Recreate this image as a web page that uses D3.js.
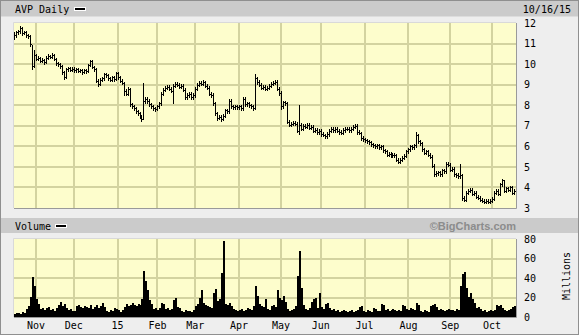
<!DOCTYPE html>
<html>
<head>
<meta charset="utf-8">
<script src="https://cdn.jsdelivr.net/npm/d3@7"></script>
<style>
  body { margin: 0; background: #fff; }
  svg { display: block; }
  text { font-family: 'DejaVu Sans Mono', monospace; font-size: 10px; fill: #000; }
</style>
</head>
<body>
<svg width="579" height="335"></svg>
<script>
const titleText = 'AVP Daily';
const dateText = '10/16/15';

// trading calendar, Oct 17 2014 - Oct 16 2015
const firstDay = '2014-10-17';
const lastDay = '2015-10-16';
const holidays = ['2014-11-27', '2014-12-25', '2015-01-01', '2015-01-19', '2015-02-16',
  '2015-04-03', '2015-05-25', '2015-07-03', '2015-09-07'];

const monthLabels = ['Nov', 'Dec', '15', 'Feb', 'Mar', 'Apr', 'May', 'Jun', 'Jul', 'Aug', 'Sep', 'Oct'];
const priceTicks = [3, 4, 5, 6, 7, 8, 9, 10, 11, 12];
const volumeTicks = [0, 20, 40, 60, 80];

// daily closes, one per trading day
const closes = [
  11.40, 11.55, 11.60, 11.75, 11.50, 11.55, 11.40, 11.35, 11.00, 9.90,
  10.45, 10.25, 10.30, 10.15, 10.20, 10.10, 10.30, 10.40, 10.35, 10.45,
  10.25, 10.05, 10.00, 9.90, 9.60, 9.35, 9.75, 9.80, 9.72, 9.78,
  9.70, 9.75, 9.68, 9.72, 9.60, 9.70, 9.65, 9.95, 10.15, 9.85,
  9.75, 9.20, 9.05, 9.25, 9.30, 9.50, 9.45, 9.30, 9.25, 9.35,
  9.28, 9.55, 9.35, 9.20, 9.10, 8.70, 8.55, 8.80, 8.05, 7.95,
  7.85, 7.70, 7.60, 7.45, 7.35, 8.20, 8.30, 8.20, 8.05, 7.95,
  7.85, 7.80, 7.95, 8.10, 8.55, 8.75, 8.85, 8.90, 8.80, 8.70,
  8.95, 9.05, 9.00, 8.90, 8.95, 8.75, 8.40, 8.50, 8.55, 8.40,
  8.50, 8.80, 9.00, 9.10, 9.05, 9.15, 8.95, 8.85, 8.55, 8.50,
  8.10, 7.60, 7.40, 7.45, 7.35, 7.50, 7.75, 7.70, 8.20, 7.95,
  7.90, 7.95, 7.90, 7.95, 7.85, 8.30, 8.05, 8.10, 8.00, 7.95,
  7.85, 9.30, 9.15, 9.00, 8.85, 8.90, 8.80, 8.85, 8.95, 9.05,
  9.10, 9.15, 8.80, 8.60, 7.95, 8.15, 8.10, 7.20, 7.05, 7.10,
  7.15, 7.10, 6.75, 7.05, 6.85, 7.00, 6.95, 7.05, 6.90, 6.95,
  6.75, 6.80, 6.70, 6.75, 6.60, 6.55, 6.50, 6.60, 6.75, 6.85,
  6.80, 6.85, 6.75, 6.70, 6.65, 6.80, 6.85, 6.85, 6.80, 6.85,
  6.95, 7.00, 6.70, 6.65, 6.40, 6.35, 6.30, 6.25, 6.20, 6.10,
  6.05, 6.00, 6.05, 5.95, 6.00, 5.80, 5.75, 5.60, 5.65, 5.55,
  5.60, 5.58, 5.35, 5.25, 5.35, 5.45, 5.55, 5.75, 5.85, 6.00,
  5.95, 6.05, 6.55, 6.25, 6.15, 5.85, 5.70, 5.75, 5.60, 5.50,
  5.05, 4.65, 4.70, 4.75, 4.65, 4.85, 4.80, 5.15, 5.10, 4.85,
  4.90, 4.65, 4.60, 4.55, 4.60, 3.50, 3.40, 3.75, 3.85, 3.90,
  3.70, 3.75, 3.55, 3.50, 3.40, 3.35, 3.30, 3.35, 3.30, 3.35,
  3.45, 3.75, 3.85, 3.70, 4.15, 4.35, 3.85, 3.95, 3.90, 4.00,
  3.75, 3.85
];

const highs = [
  11.55, 11.63, 11.68, 11.85, 11.80, 11.62, 11.62, 11.45, 11.40, 10.95,
  10.70, 10.50, 10.38, 10.36, 10.28, 10.26, 10.38, 10.48, 10.45, 10.52,
  10.50, 10.30, 10.12, 10.05, 9.95, 9.65, 9.82, 9.88, 9.85, 9.85,
  9.85, 9.82, 9.80, 9.78, 9.78, 9.76, 9.76, 10.02, 10.22, 10.20,
  9.90, 9.80, 9.28, 9.32, 9.38, 9.58, 9.56, 9.50, 9.36, 9.42,
  9.40, 9.62, 9.60, 9.42, 9.28, 9.15, 8.78, 8.90, 8.85, 8.12,
  8.02, 7.90, 7.78, 7.66, 7.52, 9.10, 8.40, 8.38, 8.28, 8.12,
  8.02, 7.92, 8.02, 8.18, 8.62, 8.82, 8.92, 8.98, 8.96, 8.88,
  9.02, 9.12, 9.12, 9.08, 9.02, 9.02, 8.82, 8.58, 8.62, 8.62,
  8.58, 8.88, 9.08, 9.20, 9.18, 9.22, 9.20, 9.02, 8.92, 8.62,
  8.58, 8.18, 7.68, 7.52, 7.52, 7.58, 7.82, 7.82, 8.28, 8.28,
  8.02, 8.02, 8.02, 8.02, 8.02, 8.38, 8.38, 8.18, 8.18, 8.08,
  8.02, 9.50, 9.38, 9.22, 9.08, 8.98, 8.98, 8.92, 9.02, 9.12,
  9.18, 9.22, 9.22, 8.88, 8.68, 8.22, 8.22, 8.18, 7.28, 7.18,
  7.22, 7.22, 7.18, 8.00, 7.12, 7.08, 7.08, 7.12, 7.12, 7.02,
  7.02, 6.88, 6.88, 6.82, 6.82, 6.68, 6.62, 6.68, 6.82, 6.92,
  6.92, 6.92, 6.92, 6.82, 6.78, 6.88, 6.92, 6.92, 6.92, 6.92,
  7.02, 7.08, 7.08, 6.78, 6.72, 6.48, 6.42, 6.38, 6.32, 6.28,
  6.18, 6.12, 6.12, 6.12, 6.08, 6.08, 5.88, 5.82, 5.72, 5.72,
  5.68, 5.68, 5.65, 5.42, 5.42, 5.52, 5.62, 5.82, 5.92, 6.08,
  6.08, 6.12, 6.72, 6.62, 6.32, 6.22, 5.92, 5.82, 5.82, 5.68,
  5.58, 5.12, 4.78, 4.82, 4.82, 4.92, 4.92, 5.22, 5.22, 5.18,
  4.98, 4.98, 4.72, 4.68, 5.15, 4.65, 3.58, 3.82, 3.92, 3.98,
  3.98, 3.82, 3.82, 3.62, 3.58, 3.48, 3.42, 3.42, 3.42, 3.42,
  3.52, 3.82, 3.92, 3.92, 4.22, 4.42, 4.38, 4.02, 4.02, 4.08,
  4.08, 3.92
];

const lows = [
  11.20, 11.32, 11.47, 11.52, 11.42, 11.45, 11.32, 11.27, 10.90, 9.76,
  9.85, 10.18, 10.18, 10.08, 10.08, 10.02, 10.05, 10.25, 10.28, 10.30,
  10.18, 9.98, 9.93, 9.82, 9.52, 9.28, 9.30, 9.68, 9.65, 9.66,
  9.62, 9.64, 9.60, 9.62, 9.54, 9.55, 9.58, 9.60, 9.90, 9.80,
  9.68, 9.12, 8.95, 9.00, 9.18, 9.25, 9.38, 9.22, 9.18, 9.20,
  9.20, 9.24, 9.28, 9.14, 9.02, 8.50, 8.48, 8.50, 7.98, 7.88,
  7.78, 7.62, 7.52, 7.38, 7.25, 7.32, 8.10, 8.12, 7.98, 7.88,
  7.78, 7.72, 7.75, 7.88, 8.02, 8.48, 8.68, 8.78, 8.72, 8.62,
  8.10, 8.88, 8.92, 8.82, 8.85, 8.68, 8.32, 8.32, 8.42, 8.32,
  8.32, 8.42, 8.72, 8.92, 8.98, 8.98, 8.88, 8.78, 8.48, 8.42,
  8.02, 7.52, 7.30, 7.32, 7.25, 7.28, 7.42, 7.62, 7.62, 7.88,
  7.82, 7.82, 7.82, 7.82, 7.78, 7.78, 7.98, 7.98, 7.92, 7.88,
  7.78, 7.80, 9.05, 8.92, 8.78, 8.78, 8.72, 8.72, 8.78, 8.88,
  8.98, 9.02, 8.72, 8.52, 7.80, 7.88, 8.02, 7.12, 6.98, 6.98,
  7.02, 7.02, 6.68, 6.62, 6.78, 6.78, 6.88, 6.88, 6.82, 6.82,
  6.68, 6.68, 6.62, 6.62, 6.52, 6.48, 6.42, 6.42, 6.52, 6.68,
  6.72, 6.72, 6.68, 6.62, 6.58, 6.58, 6.72, 6.78, 6.72, 6.72,
  6.78, 6.88, 6.62, 6.58, 6.32, 6.28, 6.22, 6.18, 6.12, 6.02,
  5.98, 5.92, 5.92, 5.88, 5.88, 5.72, 5.68, 5.52, 5.52, 5.48,
  5.48, 5.50, 5.28, 5.18, 5.18, 5.28, 5.38, 5.48, 5.68, 5.78,
  5.88, 5.88, 5.98, 6.18, 6.08, 5.78, 5.62, 5.62, 5.52, 5.42,
  4.98, 4.58, 4.58, 4.62, 4.58, 4.58, 4.72, 4.72, 5.02, 4.78,
  4.78, 4.58, 4.52, 4.48, 4.48, 3.38, 3.32, 3.35, 3.68, 3.78,
  3.62, 3.62, 3.48, 3.42, 3.32, 3.28, 3.22, 3.22, 3.22, 3.22,
  3.28, 3.38, 3.68, 3.62, 3.62, 4.08, 3.78, 3.78, 3.82, 3.82,
  3.68, 3.68
];

// daily volume, millions of shares
const volumes = [
  3, 4, 4, 3, 5, 4, 8, 11, 21, 41,
  32, 18, 13, 8, 9, 7, 9, 10, 7, 8,
  6, 9, 12, 15, 11, 13, 9, 7, 8, 6,
  6, 11, 12, 10, 9, 11, 10, 9, 12, 8,
  10, 12, 9, 11, 14, 10, 6, 5, 7, 6,
  9, 8, 7, 5, 7, 10, 13, 11, 12, 14,
  12, 11, 13, 12, 18, 47, 37, 28, 17, 13,
  8, 9, 7, 9, 14, 13, 8, 9, 7, 8,
  17, 20, 10, 9, 6, 5, 7, 6, 6, 5,
  7, 11, 13, 20, 28, 14, 12, 11, 10, 9,
  25, 29, 16, 18, 45, 78, 13, 12, 14, 11,
  8, 7, 6, 7, 8, 6, 7, 9, 8, 7,
  11, 32, 22, 13, 11, 10, 18, 8, 7, 11,
  12, 10, 28, 20, 17, 22, 15, 8, 6, 7,
  8, 11, 42, 68, 30, 12, 8, 7, 9, 15,
  18, 20, 9, 25, 10, 8, 13, 14, 9, 7,
  8, 6, 7, 5, 6, 7, 6, 5, 6, 7,
  5, 6, 7, 10, 11, 6, 5, 7, 6, 5,
  9, 8, 6, 6, 13, 12, 7, 8, 6, 7,
  8, 7, 6, 7, 6, 12, 11, 8, 7, 9,
  8, 7, 14, 12, 6, 5, 7, 6, 5, 11,
  12, 13, 10, 7, 8, 7, 6, 7, 8, 7,
  7, 6, 8, 7, 32, 44, 46, 30, 21, 25,
  18, 14, 9, 10, 8, 6, 7, 5, 6, 7,
  6, 7, 12, 11, 12, 9, 7, 6, 7, 8,
  10, 11
];

const fmt = d3.timeFormat('%Y-%m-%d');
const parse = d3.timeParse('%Y-%m-%d');
const days = d3.timeDay.range(parse(firstDay), d3.timeDay.offset(parse(lastDay), 1))
  .filter(d => d.getDay() !== 0 && d.getDay() !== 6 && !holidays.includes(fmt(d)))
  .map(fmt);

const data = days.map((d, i) => ({
  date: d, close: closes[i], high: highs[i], low: lows[i], volume: volumes[i]
}));

// first trading day of each month gets a grid line and label
const monthStarts = days.filter((d, i) => i > 0 && d.slice(5, 7) !== days[i - 1].slice(5, 7));

const svg = d3.select('svg');
const width = +svg.attr('width');
const height = +svg.attr('height');

const plotLeft = 14, plotRight = 516;
const price = { top: 23, bottom: 208 };
const vol = { top: 239, bottom: 317 };

const gridColor = '#d3d3a0';
const plotFill = '#fdfdcc';

// backdrop and header bands
svg.append('rect')
  .attr('x', 0.5).attr('y', 0.5)
  .attr('width', width - 1).attr('height', height - 1)
  .attr('fill', '#eeeeee').attr('stroke', '#8f8f8f');

svg.append('rect')
  .attr('x', 1).attr('y', 1).attr('width', width - 2).attr('height', 15.5)
  .attr('fill', '#cbcbcb');
svg.append('rect')
  .attr('x', 1).attr('y', 218).attr('width', width - 2).attr('height', 15)
  .attr('fill', '#cbcbcb');

svg.append('text').attr('x', 15).attr('y', 12.5).text(titleText);
svg.append('rect')
  .attr('x', 74.5).attr('y', 7.5).attr('width', 11).attr('height', 3)
  .attr('fill', '#000').attr('stroke', '#fff');
svg.append('text').attr('x', 571).attr('y', 12.5)
  .attr('text-anchor', 'end').text(dateText);

svg.append('text').attr('x', 15).attr('y', 229.5).text('Volume');
svg.append('rect')
  .attr('x', 55.5).attr('y', 224.5).attr('width', 11).attr('height', 3)
  .attr('fill', '#000').attr('stroke', '#fff');
svg.append('text').attr('x', 516).attr('y', 230)
  .attr('text-anchor', 'end')
  .style('font-family', '"Liberation Sans", Arial, sans-serif')
  .style('font-size', '11px').style('font-weight', 'bold')
  .style('fill', '#8c8c8c')
  .text('\u00a9BigCharts.com');

const xScale = d3.scaleBand()
  .domain(days)
  .range([plotLeft, plotRight]);

const yPrice = d3.scaleLinear().domain([3, 12]).range([price.bottom, price.top]);
const yVol = d3.scaleLinear().domain([0, 80]).range([vol.bottom, vol.top]);

function panel(box, yScale, ticks) {
  const g = svg.append('g');
  g.append('rect')
    .attr('x', plotLeft).attr('y', box.top)
    .attr('width', plotRight - plotLeft).attr('height', box.bottom - box.top)
    .attr('fill', plotFill);

  g.selectAll('.hgrid').data(ticks.slice(1, -1)).join('line')
    .attr('x1', plotLeft).attr('x2', plotRight)
    .attr('y1', d => Math.round(yScale(d))).attr('y2', d => Math.round(yScale(d)))
    .attr('stroke', gridColor).attr('stroke-width', 2)
    .attr('shape-rendering', 'crispEdges');

  g.selectAll('.vgrid').data(monthStarts).join('line')
    .attr('x1', d => Math.round(xScale(d))).attr('x2', d => Math.round(xScale(d)))
    .attr('y1', box.top).attr('y2', box.bottom)
    .attr('stroke', gridColor).attr('stroke-width', 2)
    .attr('shape-rendering', 'crispEdges');

  const yAxis = d3.axisRight(yScale).tickValues(ticks).tickSize(0).tickPadding(8);
  const yAxisG = g.append('g')
    .attr('transform', `translate(${plotRight},0)`)
    .call(yAxis);
  yAxisG.select('.domain').remove();
  yAxisG.selectAll('text')
    .style('font-family', '"DejaVu Sans Mono", monospace')
    .style('font-size', '10px');
  return g;
}

function frame(box) {
  svg.append('path')
    .attr('d', `M${plotLeft - 0.5},${box.bottom} V${box.top - 0.5} H${plotRight}`)
    .attr('fill', 'none').attr('stroke', '#d9d9d9');
  svg.append('path')
    .attr('d', `M${plotLeft},${box.bottom + 0.5} H${plotRight + 0.5} V${box.top}`)
    .attr('fill', 'none').attr('stroke', '#9a9a9a');
}

const priceG = panel(price, yPrice, priceTicks);
const volG = panel(vol, yVol, volumeTicks);

// price bars: high-low line with a close tick
const bars = priceG.append('g').attr('shape-rendering', 'crispEdges');
bars.selectAll('.hl').data(data).join('line')
  .attr('x1', d => Math.round(xScale(d.date)) + 0.5)
  .attr('x2', d => Math.round(xScale(d.date)) + 0.5)
  .attr('y1', d => Math.round(yPrice(d.high)))
  .attr('y2', d => Math.round(yPrice(d.low)) + 1)
  .attr('stroke', '#000');
bars.selectAll('.cl').data(data).join('line')
  .attr('x1', d => Math.round(xScale(d.date)))
  .attr('x2', d => Math.round(xScale(d.date)) + 2)
  .attr('y1', d => Math.round(yPrice(d.close)) + 0.5)
  .attr('y2', d => Math.round(yPrice(d.close)) + 0.5)
  .attr('stroke', '#000');

// volume bars
volG.append('g').attr('shape-rendering', 'crispEdges')
  .selectAll('rect').data(data).join('rect')
  .attr('x', d => Math.round(xScale(d.date)))
  .attr('width', 2)
  .attr('y', d => Math.round(yVol(d.volume)))
  .attr('height', d => vol.bottom - Math.round(yVol(d.volume)))
  .attr('fill', '#000');

frame(price);
frame(vol);

// month labels under the volume panel
const xAxis = d3.axisBottom(xScale)
  .tickValues(monthStarts)
  .tickFormat((d, i) => monthLabels[i])
  .tickSize(0)
  .tickPadding(5);
const xAxisG = svg.append('g')
  .attr('transform', `translate(${-xScale.bandwidth() / 2},${vol.bottom})`)
  .call(xAxis);
xAxisG.select('.domain').remove();
xAxisG.selectAll('text')
  .style('font-family', '"DejaVu Sans Mono", monospace')
  .style('font-size', '10px');

svg.append('text')
  .attr('transform', `translate(570,276) rotate(-90)`)
  .attr('text-anchor', 'middle')
  .text('Millions');
</script>
</body>
</html>
